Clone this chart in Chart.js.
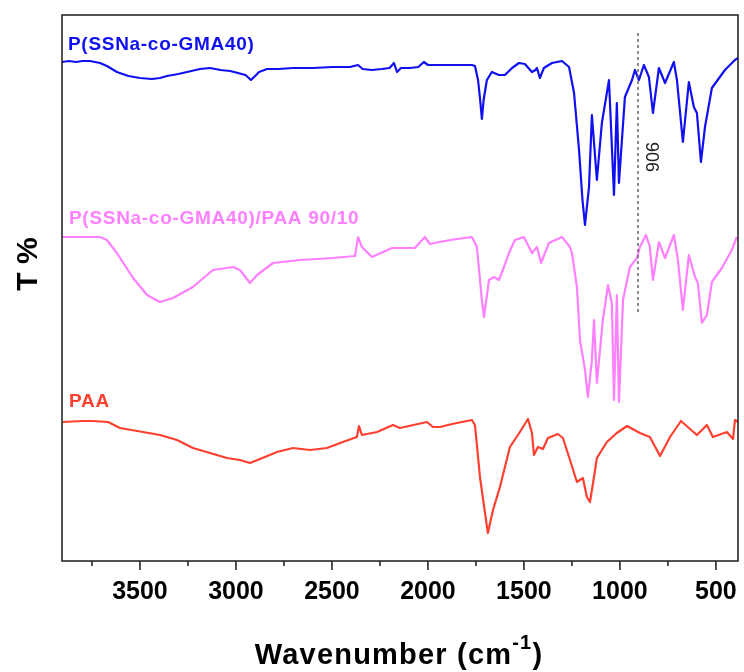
<!DOCTYPE html>
<html>
<head>
<meta charset="utf-8">
<script src="https://cdn.jsdelivr.net/npm/chart.js@4.4.1/dist/chart.umd.min.js"></script>
<style>
html,body{margin:0;padding:0;background:#fff;}
#wrap{width:744px;height:672px;position:relative;}
</style>
</head>
<body>
<div id="wrap"><canvas id="c" width="744" height="672"></canvas></div>
<script>
// ---- data (wavenumber cm-1, transmittance in arbitrary offset units) ----
const seriesNames = ["P(SSNa-co-GMA40)", "P(SSNa-co-GMA40)/PAA 90/10", "PAA"];

const blueWave = [3906,3870,3833,3800,3760,3708,3672,3620,3560,3500,3437,3396,3359,3300,3255,3187,3135,3080,3030,2990,2950,2922,2900,2880,2838,2780,2700,2600,2495,2406,2364,2340,2292,2240,2200,2177,2161,2140,2094,2050,2021,2000,1942,1880,1833,1771,1755,1739,1728,1719,1710,1693,1667,1630,1599,1562,1526,1495,1458,1440,1432,1417,1396,1354,1302,1265,1239,1213,1195,1182,1161,1146,1120,1094,1057,1031,1016,1005,974,937,922,901,875,849,828,797,765,719,703,672,641,615,599,578,557,521,453,401,385];
const blueT = [499,500,499,500,500,498,495,489,485,483,482,483,485,487,489,492,493,491,490,488,486,481,485,489,492,492,493,493,494,494,496,492,491,492,493,498,489,493,493,494,499,496,496,496,496,496,495,481,461,442,461,481,489,486,486,493,498,497,489,491,493,483,493,498,500,494,468,411,361,336,374,446,381,438,481,366,458,378,464,481,491,481,496,484,448,493,478,499,481,419,479,454,448,399,434,473,491,501,503];

const pinkWave = [3906,3800,3708,3672,3620,3536,3463,3396,3328,3224,3120,3015,2979,2927,2890,2807,2667,2495,2380,2364,2344,2302,2292,2187,2068,2016,1990,1942,1850,1771,1745,1719,1708,1682,1656,1630,1604,1578,1547,1500,1458,1432,1411,1370,1302,1260,1250,1224,1208,1182,1167,1146,1135,1120,1089,1062,1042,1031,1016,1005,984,948,911,896,864,844,828,797,765,719,698,672,641,609,594,573,547,521,469,417,391];
const pinkT = [324,324,324,321,308,283,266,259,263,274,291,294,291,278,286,298,301,303,305,324,314,306,304,313,313,324,317,319,322,324,314,261,244,281,284,281,294,308,321,324,308,314,298,318,324,314,308,274,221,191,164,201,241,178,241,276,258,161,266,159,261,294,303,314,326,314,281,319,303,326,301,251,306,284,278,238,246,279,293,311,324];

const redWave = [3901,3800,3745,3666,3604,3484,3396,3307,3224,3135,3047,2979,2927,2875,2786,2703,2614,2526,2443,2370,2359,2344,2265,2182,2146,2005,1974,1937,1896,1849,1771,1755,1729,1688,1661,1625,1573,1521,1479,1458,1448,1427,1401,1375,1323,1297,1260,1224,1193,1172,1156,1140,1120,1068,1016,963,896,844,791,739,682,599,547,516,443,411,401,385];
const redT = [139,140,140,139,133,129,126,121,113,108,103,101,98,102,109,113,111,113,119,124,135,126,129,136,133,139,134,134,136,138,141,136,84,28,51,74,114,129,142,128,106,114,112,123,127,123,101,79,83,64,59,78,103,119,128,135,128,124,105,124,140,126,136,124,129,122,141,139];

const xTickLabels = [500, 1000, 1500, 2000, 2500, 3000, 3500];
const xMinorTicks = [750, 1250, 1750, 2250, 2750, 3250, 3750];
const markerWave = 906;
const markerLabel = "906";

// ---- styles ----
const colors = ["#1010f0", "#ff80ff", "#ff4030"];

function pts(w, t) { return w.map((v, i) => ({x: v, y: t[i]})); }

const overlay = {
  id: 'overlay',
  afterDatasetsDraw(chart) {
    const {ctx, chartArea: a, scales: {x, y}} = chart;
    ctx.save();
    // marker dashed line
    const mx = x.getPixelForValue(markerWave);
    ctx.strokeStyle = '#666';
    ctx.lineWidth = 1.5;
    ctx.setLineDash([3, 3]);
    ctx.beginPath();
    ctx.moveTo(mx, y.getPixelForValue(528));
    ctx.lineTo(mx, y.getPixelForValue(249));
    ctx.stroke();
    ctx.setLineDash([]);
    // marker label (rotated)
    ctx.save();
    ctx.translate(mx + 4, 157);
    ctx.rotate(Math.PI / 2);
    ctx.fillStyle = '#222';
    ctx.font = '18px "Liberation Sans", Arial, sans-serif';
    ctx.textAlign = 'center';
    ctx.textBaseline = 'bottom';
    ctx.fillText(markerLabel, 0, 0);
    ctx.restore();

    // frame
    ctx.strokeStyle = '#1a1a1a';
    ctx.lineWidth = 1.5;
    ctx.strokeRect(a.left, a.top, a.right - a.left, a.bottom - a.top);
    // ticks
    ctx.lineWidth = 1.5;
    ctx.beginPath();
    for (const v of xTickLabels) {
      const px = x.getPixelForValue(v);
      ctx.moveTo(px, a.bottom); ctx.lineTo(px, a.bottom + 9);
    }
    for (const v of xMinorTicks) {
      const px = x.getPixelForValue(v);
      ctx.moveTo(px, a.bottom); ctx.lineTo(px, a.bottom + 5);
    }
    ctx.stroke();

    // series labels
    ctx.textAlign = 'left';
    ctx.textBaseline = 'alphabetic';
    ctx.font = 'bold 19px "Liberation Sans", Arial, sans-serif';
    ctx.letterSpacing = '0.7px';
    const labelPos = [[68, 50], [69, 224], [69, 407]];
    seriesNames.forEach((n, i) => {
      ctx.fillStyle = colors[i];
      ctx.fillText(n, labelPos[i][0], labelPos[i][1]);
    });

    // y title
    ctx.letterSpacing = '0px';
    ctx.save();
    ctx.translate(37, 264);
    ctx.rotate(-Math.PI / 2);
    ctx.fillStyle = '#000';
    ctx.font = 'bold 30px "Liberation Sans", Arial, sans-serif';
    ctx.textAlign = 'center';
    ctx.textBaseline = 'alphabetic';
    ctx.fillText('T %', 0, 0);
    ctx.restore();

    // x title with superscript
    ctx.fillStyle = '#000';
    ctx.letterSpacing = '1.2px';
    const f1 = 'bold 29px "Liberation Sans", Arial, sans-serif';
    const f2 = 'bold 20px "Liberation Sans", Arial, sans-serif';
    const p1 = 'Wavenumber (cm', p2 = '-1', p3 = ')';
    ctx.font = f1; const w1 = ctx.measureText(p1).width; const w3 = ctx.measureText(p3).width;
    ctx.font = f2; const w2 = ctx.measureText(p2).width;
    const total = w1 + w2 + w3;
    let sx = 399 - total / 2;
    const base = 664;
    ctx.font = f1; ctx.fillText(p1, sx, base); sx += w1;
    ctx.font = f2; ctx.fillText(p2, sx, base - 15); sx += w2;
    ctx.font = f1; ctx.fillText(p3, sx, base);
    ctx.restore();
  }
};

new Chart(document.getElementById('c'), {
  type: 'line',
  data: {
    datasets: [
      {label: seriesNames[0], data: pts(blueWave, blueT), borderColor: colors[0], borderWidth: 2.2},
      {label: seriesNames[1], data: pts(pinkWave, pinkT), borderColor: colors[1], borderWidth: 2.2},
      {label: seriesNames[2], data: pts(redWave, redT), borderColor: colors[2], borderWidth: 2.2}
    ]
  },
  options: {
    responsive: false,
    animation: false,
    devicePixelRatio: 1,
    layout: {padding: {left: 62, right: 6, top: 15, bottom: 0}},
    elements: {point: {radius: 0}, line: {tension: 0, borderJoinStyle: 'round'}},
    plugins: {legend: {display: false}, tooltip: {enabled: false}},
    scales: {
      x: {
        type: 'linear',
        reverse: true,
        min: 385,
        max: 3906,
        afterFit(s) { s.height = 111; },
        afterBuildTicks(s) { s.ticks = xTickLabels.map(v => ({value: v})); },
        grid: {display: false, drawTicks: false},
        border: {display: false},
        ticks: {
          color: '#000',
          padding: 16,
          maxRotation: 0,
          autoSkip: false,
          callback: v => String(v),
          font: {family: '"Liberation Sans", Arial, sans-serif', size: 25, weight: 'bold'}
        }
      },
      y: {
        display: false,
        min: 0,
        max: 546
      }
    }
  },
  plugins: [overlay]
});
</script>
</body>
</html>
